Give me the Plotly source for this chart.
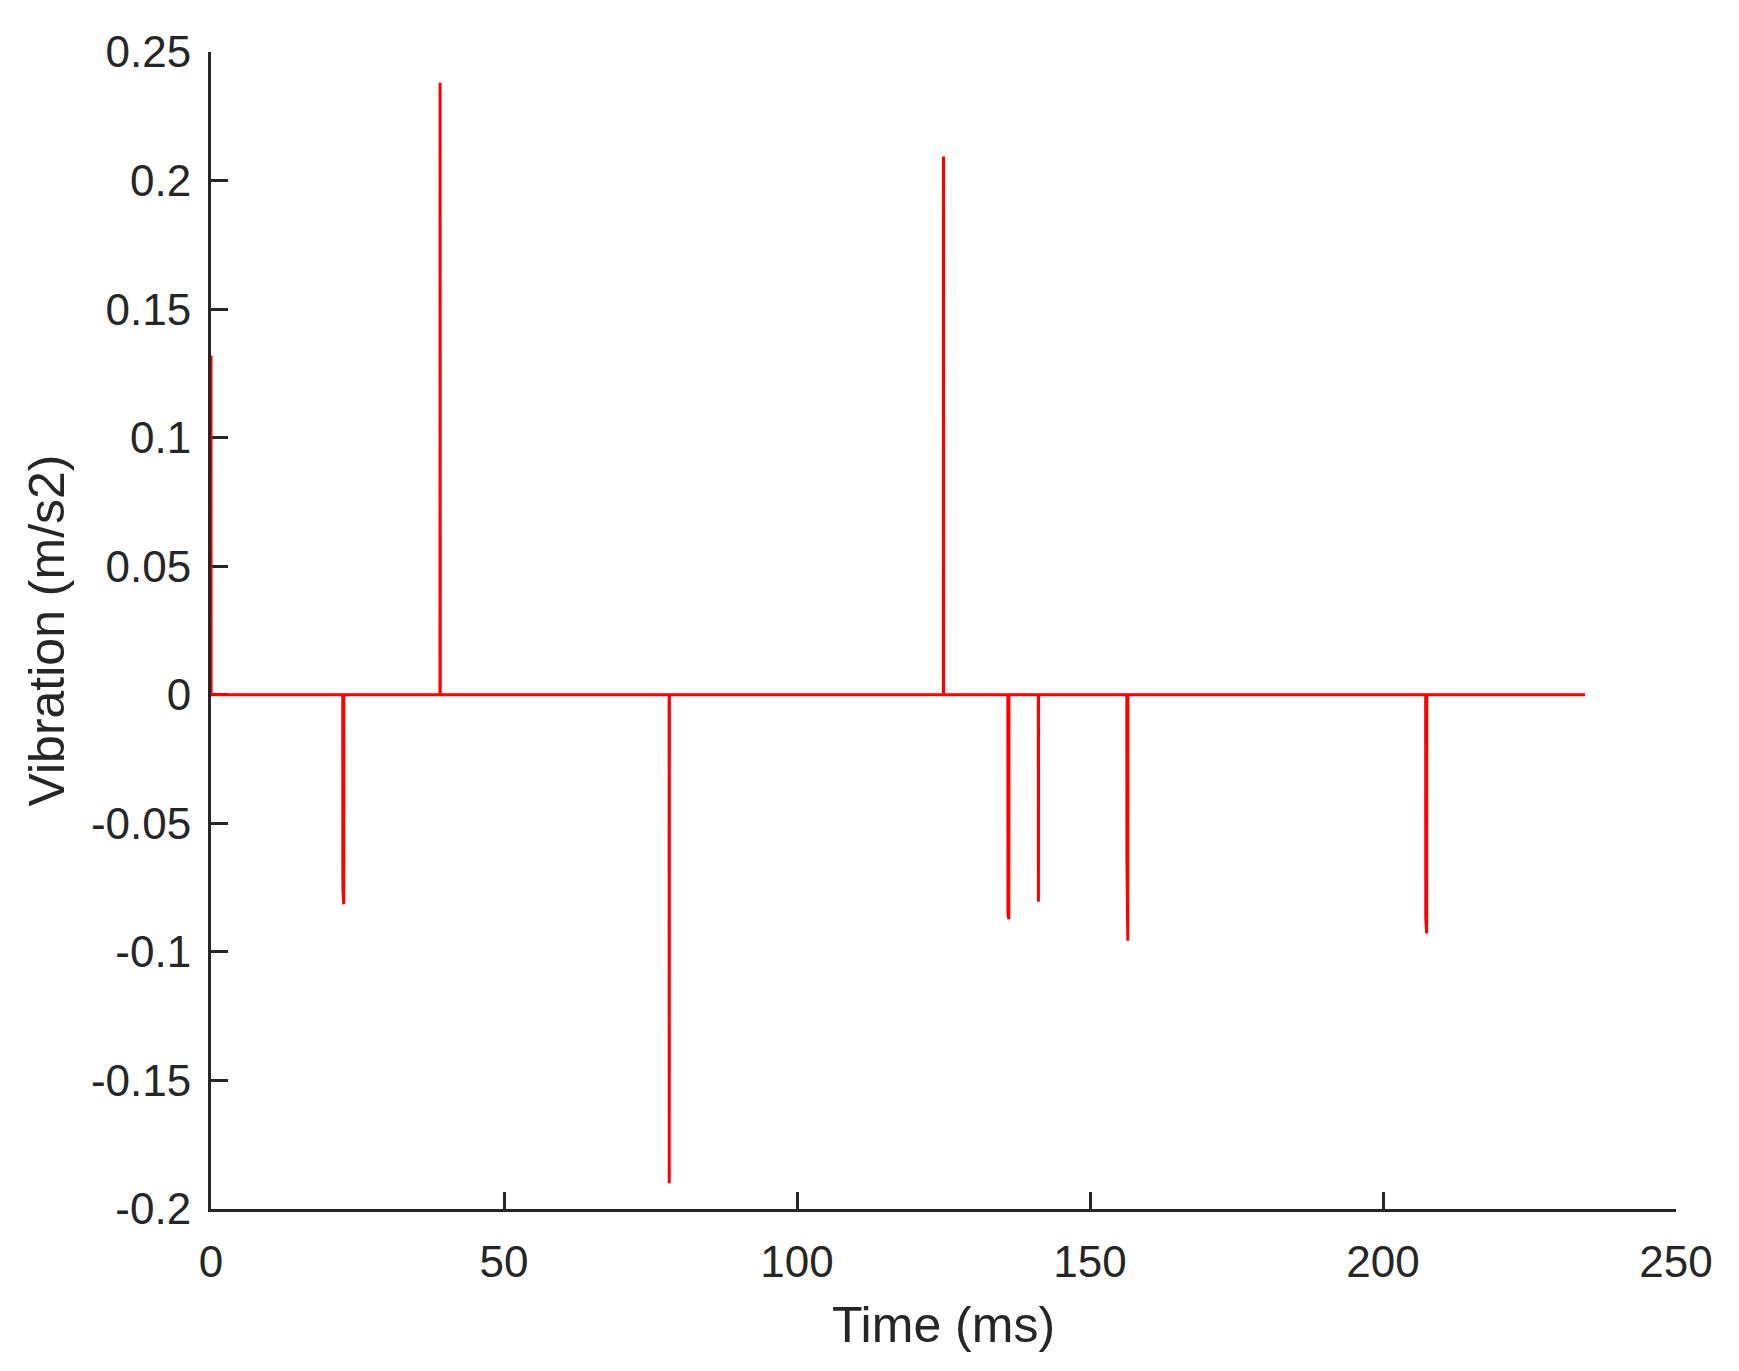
import plotly.graph_objects as go

# Spike events: time (ms) and values (m/s2) of consecutive samples
spike_times = [0.0, 22.5, 39.1, 78.2, 125.0, 136.0, 141.2, 156.3, 207.3]
spike_values = [
    [0.132],
    [-0.075, -0.0815],
    [0.238],
    [-0.190],
    [0.2094],
    [-0.085, -0.0873],
    [-0.0805],
    [-0.0643, -0.0957],
    [-0.087, -0.0928],
]
end_time = 234.5
sample_dt = 0.15
edge_dt = 0.02

x_ticks = [0, 50, 100, 150, 200, 250]
y_ticks = [-0.2, -0.15, -0.1, -0.05, 0, 0.05, 0.1, 0.15, 0.2, 0.25]
y_tick_labels = ["-0.2", "-0.15", "-0.1", "-0.05", "0", "0.05", "0.1", "0.15", "0.2", "0.25"]

# Build the trace: baseline zeros with spike samples
xs, ys = [], []
for t, vals in zip(spike_times, spike_values):
    if t > 0:
        xs.append(t - edge_dt)
        ys.append(0.0)
    for i, v in enumerate(vals):
        xs.append(t + i * sample_dt)
        ys.append(v)
    xs.append(t + (len(vals) - 1) * sample_dt + edge_dt)
    ys.append(0.0)
xs.append(end_time)
ys.append(0.0)

INK = "#262626"
FONT = "Liberation Sans, Arial, Helvetica, sans-serif"

fig = go.Figure()
fig.add_trace(go.Scatter(x=xs, y=ys, mode="lines",
                         line=dict(color="#ff0000", width=3, simplify=False),
                         showlegend=False))

fig.update_layout(
    width=1739, height=1371,
    margin=dict(l=203, r=71, t=44, b=170),
    paper_bgcolor="white", plot_bgcolor="white",
    font=dict(family=FONT, color=INK, size=44),
)
fig.update_xaxes(
    range=[0, 250], tickvals=x_ticks, ticktext=[str(v) for v in x_ticks],
    showline=True, linecolor=INK, linewidth=3, mirror=False, layer="below traces",
    ticks="inside", ticklen=17, tickwidth=3, tickcolor=INK,
    showgrid=False, zeroline=False, ticklabelstandoff=12,
    tickfont=dict(size=44, color=INK, family=FONT),
    title=dict(text="Time (ms)", font=dict(size=50, color=INK, family=FONT), standoff=23),
)
fig.update_yaxes(
    range=[-0.2, 0.25], tickvals=y_ticks, ticktext=y_tick_labels,
    showline=True, linecolor=INK, linewidth=3, mirror=False, layer="below traces",
    ticks="inside", ticklen=17, tickwidth=3, tickcolor=INK,
    showgrid=False, zeroline=False, ticklabelstandoff=8,
    tickfont=dict(size=44, color=INK, family=FONT),
    title=dict(text="Vibration (m/s2)", font=dict(size=50, color=INK, family=FONT), standoff=11),
)

fig.write_html("out.html")
